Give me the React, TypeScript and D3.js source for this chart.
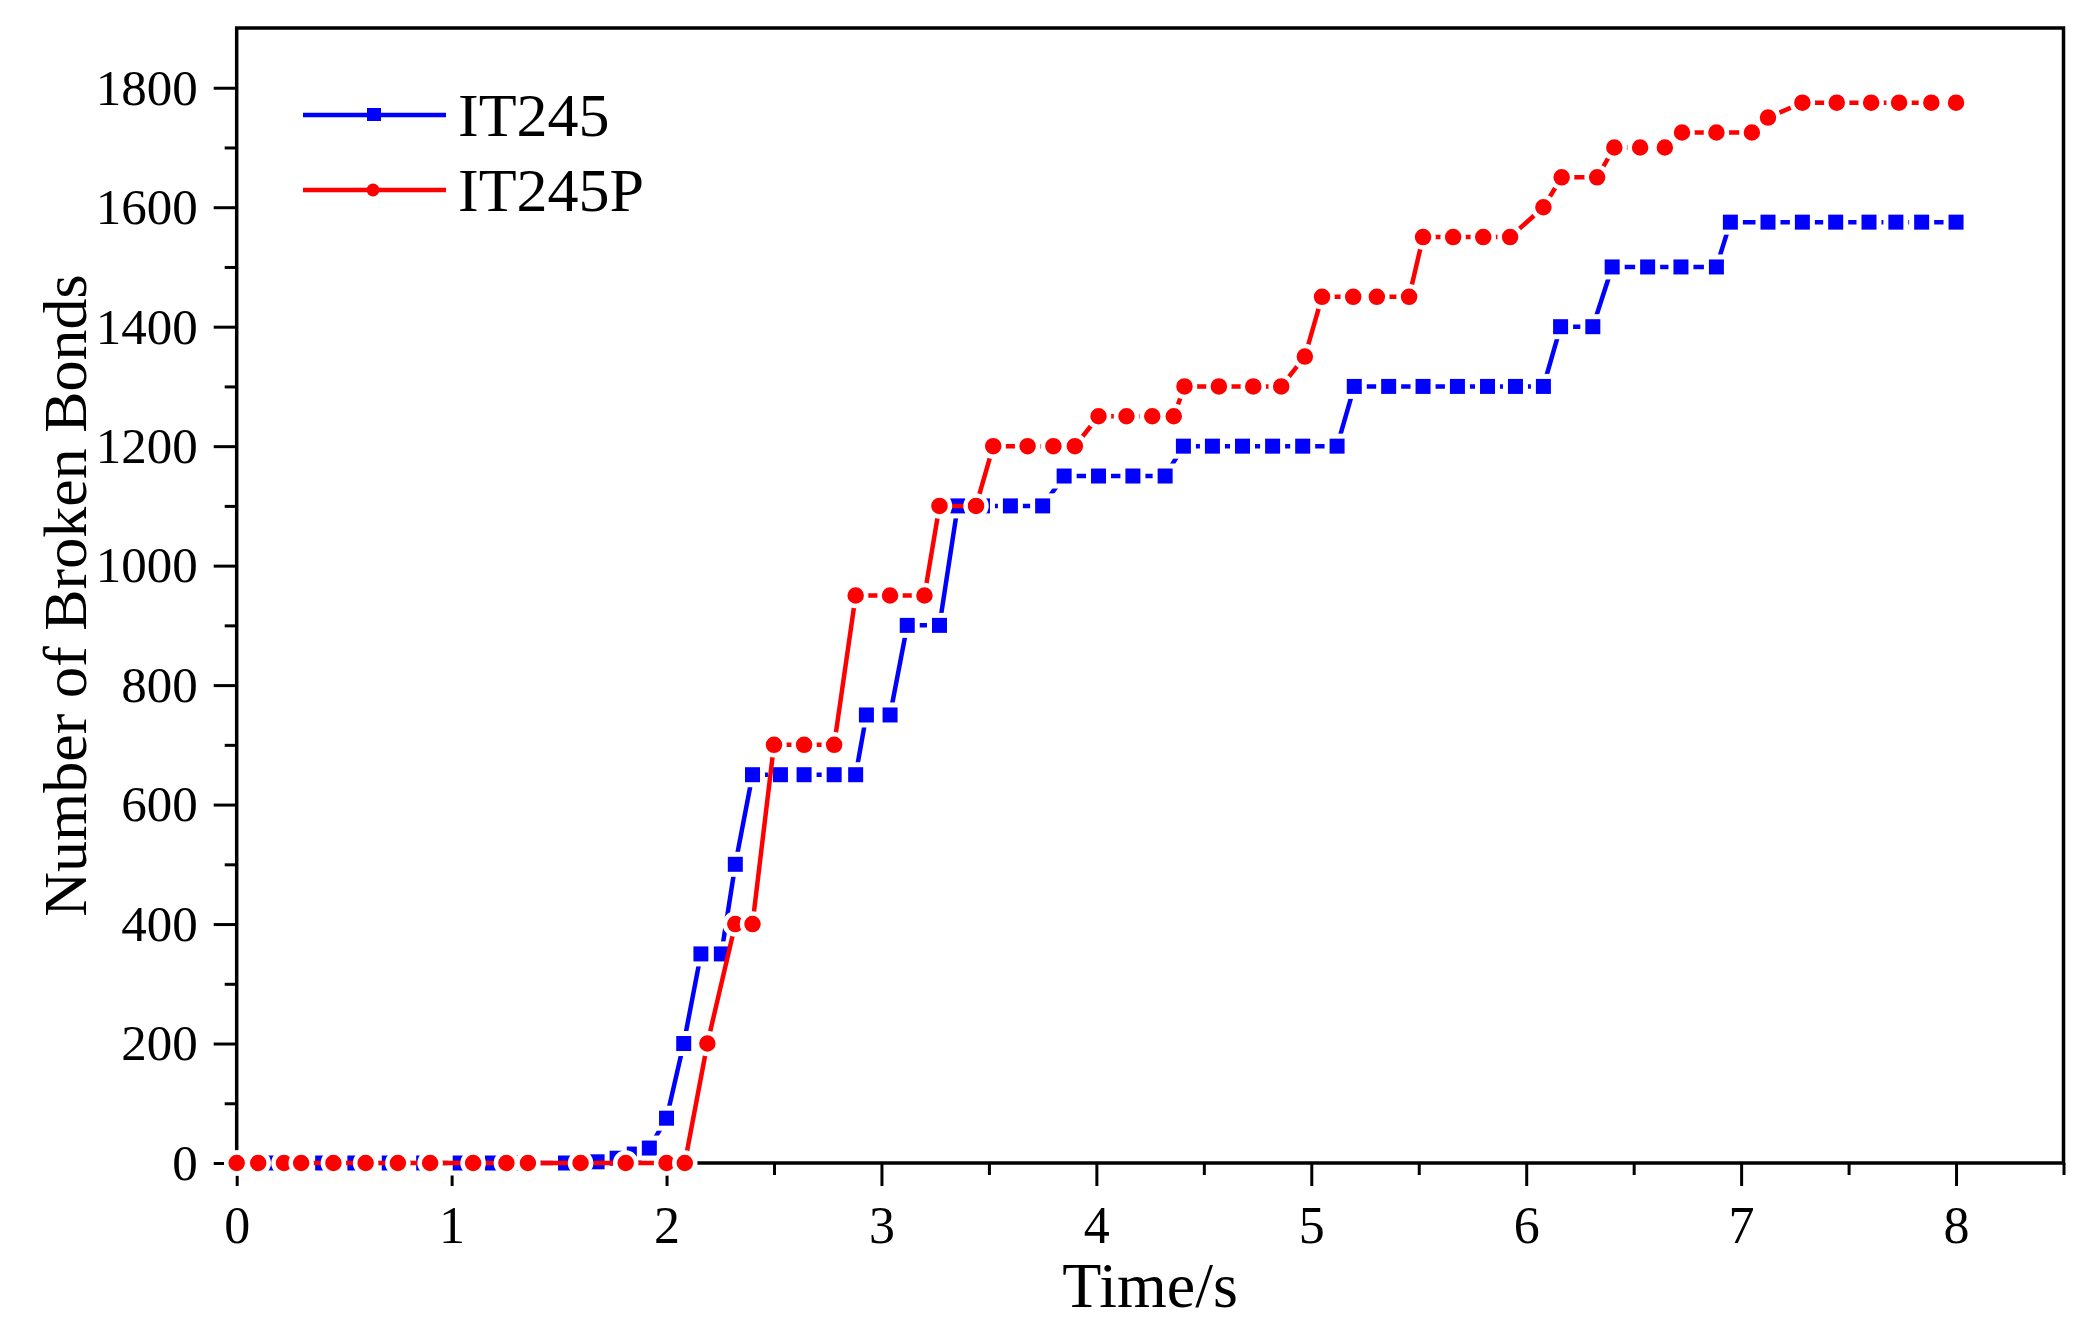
import React, { useRef, useEffect } from "react";
import * as d3 from "d3";

// IT245 (blue squares)
const blueTime = [
  0, 0.16, 0.26, 0.4, 0.55, 0.71, 0.87, 1.04, 1.19, 1.31, 1.53, 1.68, 1.77, 1.85, 1.92, 2.0,
  2.08, 2.16, 2.255, 2.32, 2.4, 2.53, 2.64, 2.78, 2.88, 2.93, 3.04, 3.12, 3.27, 3.355, 3.47,
  3.6, 3.75, 3.85, 4.01, 4.17, 4.32, 4.405, 4.54, 4.68, 4.82, 4.96, 5.12, 5.2, 5.36, 5.52,
  5.68, 5.82, 5.95, 6.08, 6.16, 6.31, 6.4, 6.565, 6.72, 6.885, 6.95, 7.125, 7.285, 7.44,
  7.595, 7.72, 7.84, 8.0,
];
const blueBonds = [
  0, 0, 0, 0, 0, 0, 0, 0, 0, 0, 0, 2, 8, 15, 25, 75,
  200, 350, 350, 500, 650, 650, 650, 650, 650, 750, 750, 900, 900, 1100, 1100,
  1100, 1100, 1150, 1150, 1150, 1150, 1200, 1200, 1200, 1200, 1200, 1200, 1300, 1300, 1300,
  1300, 1300, 1300, 1300, 1400, 1400, 1500, 1500, 1500, 1500, 1575, 1575, 1575, 1575,
  1575, 1575, 1575, 1575,
];

// IT245P (red circles)
const redTime = [
  0, 0.1, 0.22, 0.3, 0.45, 0.6, 0.75, 0.9, 1.1, 1.255, 1.355, 1.6, 1.81, 2.0, 2.085,
  2.19, 2.32, 2.4, 2.5, 2.64, 2.78, 2.88, 3.04, 3.2, 3.27, 3.44, 3.52, 3.68, 3.8, 3.9,
  4.01, 4.14, 4.26, 4.36, 4.41, 4.57, 4.73, 4.86, 4.97, 5.05, 5.195, 5.305, 5.455, 5.52,
  5.66, 5.8, 5.925, 6.08, 6.165, 6.33, 6.41, 6.53, 6.645, 6.725, 6.885, 7.05, 7.125, 7.285,
  7.445, 7.605, 7.735, 7.885, 8.0,
];
const redBonds = [
  0, 0, 0, 0, 0, 0, 0, 0, 0, 0, 0, 0, 0, 0, 0,
  200, 400, 400, 700, 700, 700, 950, 950, 950, 1100, 1100, 1200, 1200, 1200, 1200,
  1250, 1250, 1250, 1250, 1300, 1300, 1300, 1300, 1350, 1450, 1450, 1450, 1450, 1550,
  1550, 1550, 1550, 1600, 1650, 1650, 1700, 1700, 1700, 1725, 1725, 1725, 1750, 1775,
  1775, 1775, 1775, 1775, 1775,
];

const xTicks = [0, 1, 2, 3, 4, 5, 6, 7, 8];
const yTicks = [0, 200, 400, 600, 800, 1000, 1200, 1400, 1600, 1800];

const seriesNames = ["IT245", "IT245P"];

const App: React.FC = () => {
  const svgRef = useRef<SVGSVGElement | null>(null);

  useEffect(() => {
    if (!svgRef.current) return;
    const svg = d3.select(svgRef.current);
    svg.selectAll("*").remove();

    const font = "'Liberation Serif', 'Times New Roman', serif";

    // plot box in page pixels
    const left = 236.7;
    const right = 2063.5;
    const top = 28;
    const bottom = 1163;

    const x = d3.scaleLinear().domain([0, 8.5]).range([left, right]);
    const y = d3.scaleLinear().domain([0, 1900]).range([bottom, top]);

    const blue = blueTime.map((t, i) => ({ t, v: blueBonds[i] }));
    const red = redTime.map((t, i) => ({ t, v: redBonds[i] }));

    const line = d3
      .line<{ t: number; v: number }>()
      .x((d) => x(d.t))
      .y((d) => y(d.v));

    // frame
    svg
      .append("rect")
      .attr("x", x(0))
      .attr("y", y(1900))
      .attr("width", x(8.5) - x(0))
      .attr("height", y(0) - y(1900))
      .attr("fill", "none")
      .attr("stroke", "#000")
      .attr("stroke-width", 3.5);

    // x axis
    const xAxis = svg
      .append("g")
      .attr("transform", `translate(0,${y(0)})`)
      .call(
        d3
          .axisBottom(x)
          .tickValues(xTicks)
          .tickSize(23)
          .tickFormat((d) => String(d))
      );
    xAxis.select(".domain").remove();
    xAxis.selectAll(".tick line").attr("stroke", "#000").attr("stroke-width", 3);
    xAxis
      .selectAll(".tick text")
      .attr("y", 80)
      .attr("dy", null)
      .style("font-family", font)
      .style("font-size", "52px")
      .style("fill", "#000");

    const xMinor = svg.append("g").attr("transform", `translate(0,${y(0)})`);
    xMinor
      .call(d3.axisBottom(x).tickValues(d3.range(0.5, 8.6, 1)).tickSize(12).tickFormat(() => ""))
      .select(".domain")
      .remove();
    xMinor.selectAll(".tick line").attr("stroke", "#000").attr("stroke-width", 3);

    // y axis
    const yAxis = svg
      .append("g")
      .attr("transform", `translate(${x(0)},0)`)
      .call(
        d3
          .axisLeft(y)
          .tickValues(yTicks)
          .tickSize(23)
          .tickPadding(16)
          .tickFormat(d3.format("d"))
      );
    yAxis.select(".domain").remove();
    yAxis.selectAll(".tick line").attr("stroke", "#000").attr("stroke-width", 3);
    yAxis
      .selectAll(".tick text")
      .style("font-family", font)
      .style("font-size", "51px")
      .style("fill", "#000");

    const yMinor = svg.append("g").attr("transform", `translate(${x(0)},0)`);
    yMinor
      .call(d3.axisLeft(y).tickValues(d3.range(100, 1800, 200)).tickSize(12).tickFormat(() => ""))
      .select(".domain")
      .remove();
    yMinor.selectAll(".tick line").attr("stroke", "#000").attr("stroke-width", 3);

    // axis titles
    svg
      .append("text")
      .attr("x", (x(0) + x(8.5)) / 2)
      .attr("y", 1307)
      .attr("text-anchor", "middle")
      .style("font-family", font)
      .style("font-size", "64px")
      .text("Time/s");

    svg
      .append("text")
      .attr("transform", `translate(86,${(y(0) + y(1900)) / 2}) rotate(-90)`)
      .attr("text-anchor", "middle")
      .style("font-family", font)
      .style("font-size", "62px")
      .text("Number of Broken Bonds");

    // IT245 series
    svg
      .append("path")
      .datum(blue)
      .attr("d", line)
      .attr("fill", "none")
      .attr("stroke", "#0000ff")
      .attr("stroke-width", 4.5);
    svg
      .selectAll("rect.blue-pt")
      .data(blue)
      .enter()
      .append("rect")
      .attr("class", "blue-pt")
      .attr("x", (d) => x(d.t) - 10)
      .attr("y", (d) => y(d.v) - 10)
      .attr("width", 20)
      .attr("height", 20)
      .attr("fill", "#0000ff")
      .attr("stroke", "#fff")
      .attr("stroke-width", 5);

    // IT245P series
    svg
      .append("path")
      .datum(red)
      .attr("d", line)
      .attr("fill", "none")
      .attr("stroke", "#ff0000")
      .attr("stroke-width", 4.5);
    svg
      .selectAll("circle.red-pt")
      .data(red)
      .enter()
      .append("circle")
      .attr("class", "red-pt")
      .attr("cx", (d) => x(d.t))
      .attr("cy", (d) => y(d.v))
      .attr("r", 10.5)
      .attr("fill", "#ff0000")
      .attr("stroke", "#fff")
      .attr("stroke-width", 4.5);

    // legend
    const legend = svg.append("g");
    const colors = ["#0000ff", "#ff0000"];
    seriesNames.forEach((name, i) => {
      const ly = 115 + i * 75;
      legend
        .append("line")
        .attr("x1", 303)
        .attr("x2", 446)
        .attr("y1", ly)
        .attr("y2", ly)
        .attr("stroke", colors[i])
        .attr("stroke-width", 4.5);
      if (i === 0) {
        legend
          .append("rect")
          .attr("x", 367)
          .attr("y", ly - 7)
          .attr("width", 14)
          .attr("height", 13)
          .attr("fill", colors[i]);
      } else {
        legend
          .append("circle")
          .attr("cx", 373)
          .attr("cy", ly)
          .attr("r", 6.5)
          .attr("fill", colors[i]);
      }
      legend
        .append("text")
        .attr("x", 458)
        .attr("y", ly + 21)
        .style("font-family", font)
        .style("font-size", "62px")
        .text(name);
    });
  }, []);

  return (
    <svg
      ref={svgRef}
      width={2085}
      height={1339}
      style={{ position: "absolute", left: 0, top: 0, background: "#fff" }}
    />
  );
};

export default App;
